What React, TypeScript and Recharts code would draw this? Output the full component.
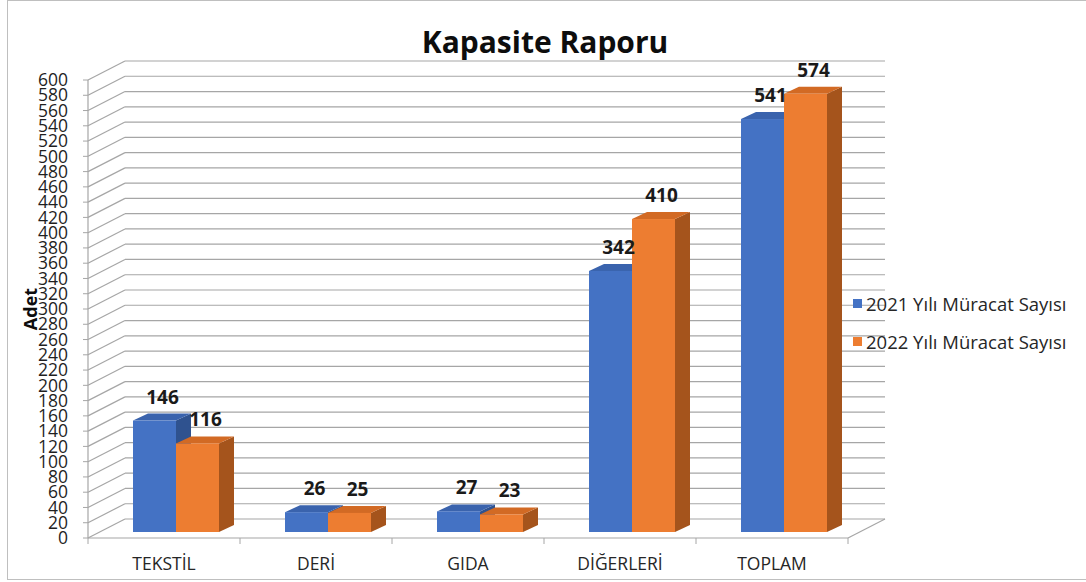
import React from "react";
import { BarChart, Bar, XAxis, YAxis, CartesianGrid, LabelList } from "recharts";

const CATEGORIES = ["TEKSTİL", "DERİ", "GIDA", "DİĞERLERİ", "TOPLAM"];
const SERIES_2021 = [146, 26, 27, 342, 541];
const SERIES_2022 = [116, 25, 23, 410, 574];
const SERIES_NAMES = ["2021 Yılı Müracat Sayısı", "2022 Yılı Müracat Sayısı"];
const Y_TICKS = [
  0, 20, 40, 60, 80, 100, 120, 140, 160, 180, 200, 220, 240, 260, 280, 300,
  320, 340, 360, 380, 400, 420, 440, 460, 480, 500, 520, 540, 560, 580, 600,
];

const data = CATEGORIES.map((name, i) => ({
  name,
  y2021: SERIES_2021[i],
  y2022: SERIES_2022[i],
}));

const FONT = "'Open Sans', sans-serif";
const GRID = "#a6a6a6";
const W = 1086;
const H = 582;
const PLOT_LEFT = 88;
const PLOT_RIGHT = 848;
const PLOT_TOP = 80;
const PLOT_BOTTOM = 538;
const BAND = (PLOT_RIGHT - PLOT_LEFT) / CATEGORIES.length;

// perspective offsets
const WALL_DX = 37;
const WALL_DY = 19;
const BAR_DX = 12;
const BAR_DY = 6;
const DEPTH_DX = 15;
const DEPTH_DY = 7;

const COLORS = [
  { front: "#4472c4", top: "#3a63ad", side: "#2f528f" },
  { front: "#ed7d31", top: "#d26a24", side: "#a5541c" },
];

function Bar3D(props: any) {
  const { x, y, width, height, colors } = props;
  if (x == null || y == null) return null;
  const fx = x + BAR_DX;
  const fy = y - BAR_DY;
  const top = `${fx},${fy} ${fx + DEPTH_DX},${fy - DEPTH_DY} ${fx + width + DEPTH_DX},${fy - DEPTH_DY} ${fx + width},${fy}`;
  const side = `${fx + width},${fy} ${fx + width + DEPTH_DX},${fy - DEPTH_DY} ${fx + width + DEPTH_DX},${fy - DEPTH_DY + height} ${fx + width},${fy + height}`;
  return (
    <g>
      <polygon points={side} fill={colors.side} />
      <polygon points={top} fill={colors.top} />
      <rect x={fx} y={fy} width={width} height={height} fill={colors.front} />
    </g>
  );
}

function ValueLabel(props: any) {
  const { x, y, width, value } = props;
  return (
    <text
      x={x + width / 2 + BAR_DX + 8}
      y={y - BAR_DY - 24}
      textAnchor="middle"
      dominantBaseline="central"
      fontFamily={FONT}
      fontSize={19}
      fontWeight={700}
      fill="#1a1a1a"
    >
      {value}
    </text>
  );
}

function GridLine(props: any) {
  const { x1, y1, x2, y2, index } = props;
  const isFloor = Math.abs(y1 - PLOT_BOTTOM) < 0.5;
  return (
    <g key={`h-${index}-${y1}`}>
      <line x1={x1} y1={y1} x2={x1 + WALL_DX} y2={y1 - WALL_DY} stroke={GRID} strokeWidth={1.2} />
      <line
        x1={x1 + WALL_DX}
        y1={y1 - WALL_DY}
        x2={x2 + WALL_DX}
        y2={y2 - WALL_DY}
        stroke={GRID}
        strokeWidth={1.2}
      />
      {isFloor ? (
        <line x1={x2} y1={y2} x2={x2 + WALL_DX} y2={y2 - WALL_DY} stroke={GRID} strokeWidth={1.2} />
      ) : null}
    </g>
  );
}

function CategoryTick(props: any) {
  const { x, payload, index } = props;
  return (
    <g>
      <line x1={x - BAND / 2} y1={PLOT_BOTTOM} x2={x - BAND / 2} y2={PLOT_BOTTOM + 6} stroke={GRID} />
      {index === CATEGORIES.length - 1 ? (
        <line x1={x + BAND / 2} y1={PLOT_BOTTOM} x2={x + BAND / 2} y2={PLOT_BOTTOM + 6} stroke={GRID} />
      ) : null}
      <text
        x={x}
        y={PLOT_BOTTOM + 25}
        textAnchor="middle"
        dominantBaseline="central"
        fontFamily={FONT}
        fontSize={17.5}
        fill="#262626"
      >
        {payload.value}
      </text>
    </g>
  );
}

export default function App() {
  return (
    <div style={{ position: "absolute", left: 0, top: 0, width: W, height: H, background: "#fff", overflow: "hidden" }}>
      <div
        style={{
          position: "absolute",
          left: 7,
          top: 0,
          width: W,
          height: 578,
          borderLeft: "1px solid #bfbfbf",
          borderTop: "1px solid #bfbfbf",
          borderBottom: "1px solid #bfbfbf",
        }}
      />
      <div
        style={{
          position: "absolute",
          left: 0,
          width: W,
          top: 22,
          textAlign: "center",
          fontFamily: FONT,
          fontWeight: 700,
          fontSize: 30,
          lineHeight: "40px",
          color: "#0d0d0d",
          paddingLeft: 2,
        }}
      >
        Kapasite Raporu
      </div>
      <div
        style={{
          position: "absolute",
          left: 30,
          top: 309,
          transform: "translate(-50%, -50%) rotate(-90deg)",
          fontFamily: FONT,
          fontWeight: 700,
          fontSize: 18,
          color: "#0d0d0d",
          whiteSpace: "nowrap",
        }}
      >
        Adet
      </div>
      <div style={{ position: "absolute", left: 0, top: 0 }}>
        <BarChart
          width={W}
          height={H}
          data={data}
          margin={{ top: PLOT_TOP, right: W - PLOT_RIGHT, bottom: 14, left: 28 }}
          barGap={0}
          barSize={43}
        >
          <CartesianGrid vertical={false} horizontal={(p: any) => <GridLine {...p} />} />
          <XAxis
            dataKey="name"
            height={30}
            interval={0}
            tickLine={false}
            axisLine={{ stroke: GRID, strokeWidth: 1.2 }}
            tick={(p: any) => <CategoryTick {...p} />}
          />
          <YAxis
            width={60}
            domain={[0, 600]}
            ticks={Y_TICKS}
            interval={0}
            tickSize={5}
            tickMargin={15}
            axisLine={{ stroke: GRID, strokeWidth: 1.2 }}
            tickLine={{ stroke: GRID }}
            tick={{ fontSize: 17.5, fill: "#1f1f1f", fontFamily: FONT }}
          />
          <Bar
            dataKey="y2021"
            name={SERIES_NAMES[0]}
            isAnimationActive={false}
            shape={(p: any) => <Bar3D {...p} colors={COLORS[0]} />}
          >
            <LabelList dataKey="y2021" content={(p: any) => <ValueLabel {...p} />} />
          </Bar>
          <Bar
            dataKey="y2022"
            name={SERIES_NAMES[1]}
            isAnimationActive={false}
            shape={(p: any) => <Bar3D {...p} colors={COLORS[1]} />}
          >
            <LabelList dataKey="y2022" content={(p: any) => <ValueLabel {...p} />} />
          </Bar>
        </BarChart>
      </div>
      <div style={{ position: "absolute", left: 853, top: 293, fontFamily: FONT, fontSize: 18.5, color: "#262626" }}>
        {SERIES_NAMES.map((n, i) => (
          <div key={n} style={{ display: "flex", alignItems: "center", height: 20, marginBottom: i === 0 ? 18 : 0 }}>
            <span style={{ width: 9, height: 9, background: COLORS[i].front, display: "inline-block", marginRight: 4 }} />
            <span style={{ whiteSpace: "nowrap" }}>{n}</span>
          </div>
        ))}
      </div>
    </div>
  );
}
